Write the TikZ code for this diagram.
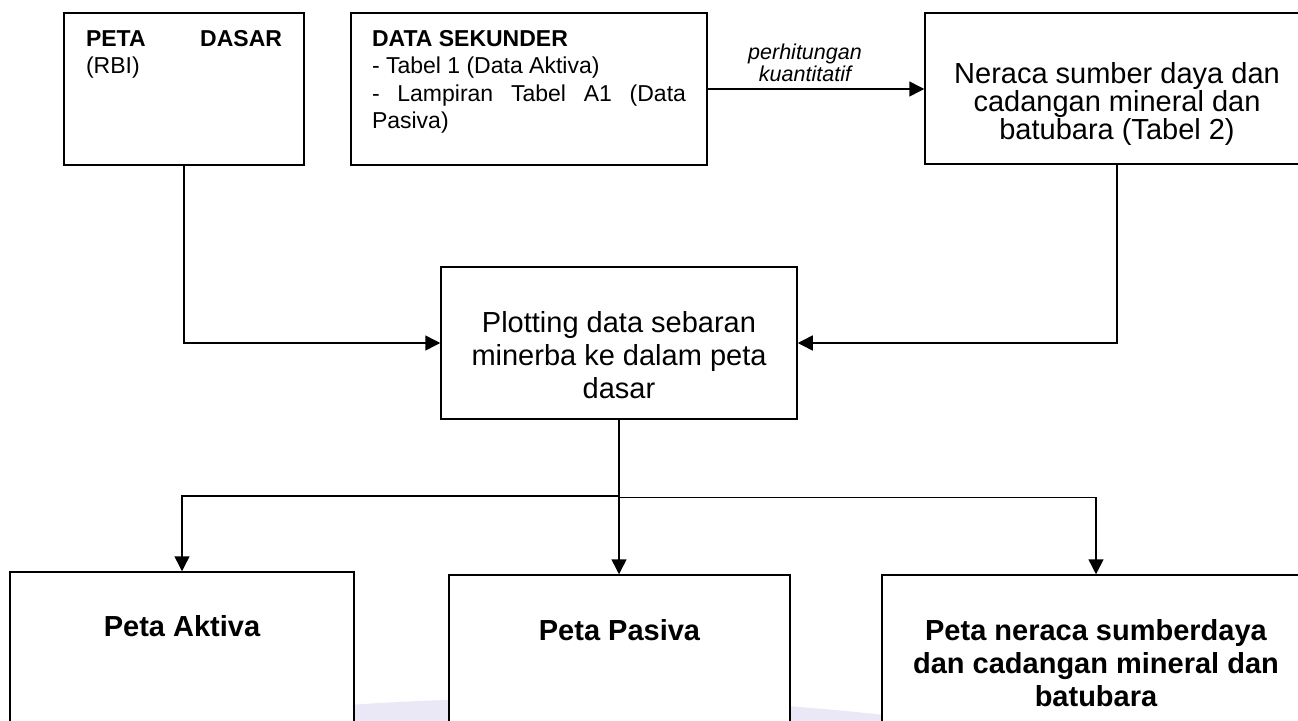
\documentclass[tikz,border=0pt]{standalone}
\usepackage{fontspec}
\setmainfont{Liberation Sans}
\usetikzlibrary{arrows.meta}
\lineskiplimit=-1000pt
\newcommand{\firstline}[1]{\rule{0pt}{#1}}
\definecolor{wmark}{RGB}{234,232,246}
\tikzset{
  boxnode/.style={draw=black, line width=1.5pt, inner sep=0pt, fill=white},
  arr/.style={draw=black, line width=1.5pt, -{Triangle[length=15pt,width=15pt]}},
  conn/.style={draw=black, line width=1.5pt}
}
\begin{document}
\begin{tikzpicture}[x=1pt,y=-1pt]
\clip (0,0) rectangle (1298,720);
\fill[white] (0,0) rectangle (1298,720);
% faint watermark behind the boxes
\fill[wmark] (560,848) ellipse [x radius=700, y radius=150];

% top row
\node[boxnode] (peta) at (184,89) {\parbox[c][152pt][t]{240pt}{\fontsize{23}{27.5}\selectfont\leftskip=22pt\rightskip=22pt
\firstline{33pt}\textbf{PETA}\hfill\textbf{DASAR}\\ (RBI)}};

\node[boxnode] (data) at (529,89) {\parbox[c][152pt][t]{356pt}{\fontsize{23}{27.5}\selectfont\leftskip=21pt\rightskip=21pt
\firstline{33pt}\textbf{DATA SEKUNDER}\\
- Tabel 1 (Data Aktiva)\\
- \hfill Lampiran \hfill Tabel \hfill A1 \hfill (Data\\
Pasiva)}};

\node[boxnode] (neraca) at (1117,88.5) {\parbox[c][151pt][t]{384pt}{\fontsize{29}{27}\selectfont\centering
\firstline{70pt}Neraca sumber daya dan\\ cadangan mineral dan\\ batubara (Tabel 2)}};

\node[font=\fontsize{21.5}{22}\selectfont\itshape, align=center, inner sep=0pt] (lbl) at (805,63) {perhitungan\\kuantitatif};

% middle
\node[boxnode] (plot) at (619,343) {\parbox[c][152pt][t]{356pt}{\fontsize{29}{33}\selectfont\centering
\firstline{65pt}Plotting data sebaran\\ minerba ke dalam peta\\ dasar}};

% bottom row
\node[boxnode] (aktiva) at (182,656) {\parbox[c][168pt][t]{344pt}{\fontsize{29}{33}\selectfont\bfseries\centering
\firstline{64pt}Peta Aktiva}};

\node[boxnode] (pasiva) at (619.5,657.5) {\parbox[c][165pt][t]{341pt}{\fontsize{29}{33}\selectfont\bfseries\centering
\firstline{65pt}Peta Pasiva}};

\node[boxnode] (neracab) at (1096,657.5) {\parbox[c][165pt][t]{428pt}{\fontsize{29}{33}\selectfont\bfseries\centering
\firstline{65pt}Peta neraca sumberdaya\\ dan cadangan mineral dan\\ batubara}};

% connectors
\draw[arr] (data.east) -- (data.east -| neraca.west);
\draw[arr] (peta.south) |- (plot.west);
\draw[arr] (neraca.south) |- (plot.east);
\draw[arr] (plot.south) -- (plot.south |- pasiva.north);
\coordinate (brl) at (619,496);
\coordinate (brr) at (619,497.5);
\draw[arr] (brl) -| (aktiva.north);
\draw[arr] (brr) -| (neracab.north);
\end{tikzpicture}
\end{document}
